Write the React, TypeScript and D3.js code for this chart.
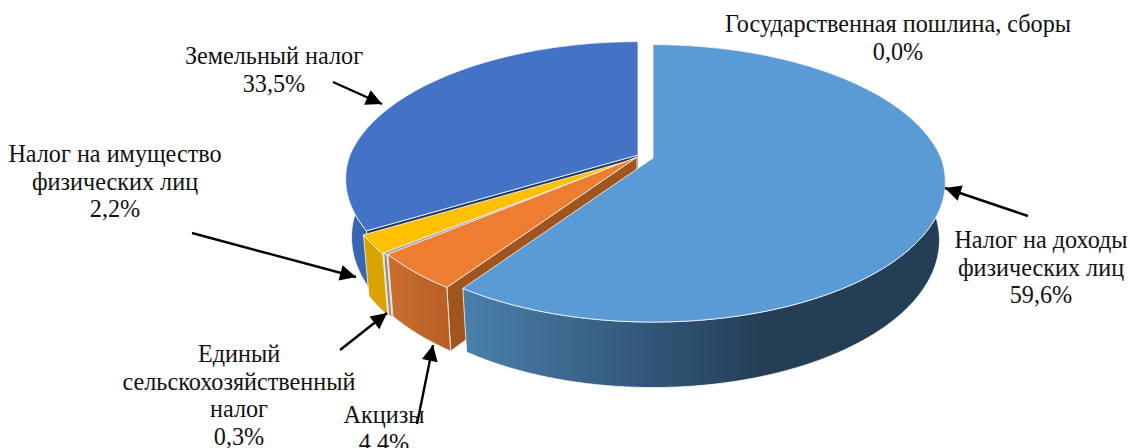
import React, { useEffect } from "react";
import * as d3 from "d3";

const categories = [
  "Налог на доходы физических лиц",
  "Акцизы",
  "Единый сельскохозяйственный налог",
  "Налог на имущество физических лиц",
  "Земельный налог",
  "Государственная пошлина, сборы",
];
const shares = [59.6, 4.4, 0.3, 2.2, 33.5, 0.0];
const shareLabels = ["59,6%", "4,4%", "0,3%", "2,2%", "33,5%", "0,0%"];

const topColors = ["#5b9bd5", "#ed7d31", "#a5a5a5", "#ffc000", "#4472c4", "#70ad47"];
const wallColors = ["#2a4a66", "#c0652a", "#8a8a8a", "#d9a300", "#3866b0", "#70ad47"];
const cutColors = ["#2a4a66", "#a0551f", "#8c8c8c", "#b78f00", "#203864", "#70ad47"];

// how far each slice is pulled out of the pie
const offsets: [number, number][] = [
  [15, 2],
  [-1, 1],
  [-2, 2],
  [-3, 3],
  [0, -1],
  [0, 0],
];

// label text wrapped like in the original, centre x and first baseline
const labelLines = [
  ["Налог на доходы", "физических лиц"],
  ["Акцизы"],
  ["Единый", "сельскохозяйственный", "налог"],
  ["Налог на имущество", "физических лиц"],
  ["Земельный налог"],
  ["Государственная пошлина, сборы"],
];
const labelAnchors: [number, number][] = [
  [1041, 248],
  [384, 423],
  [239, 362],
  [115, 162],
  [274, 64],
  [898, 32],
];
const arrows: [number, number, number, number][] = [
  [1028, 216, 945, 188],
  [417, 424, 433, 345],
  [340, 350, 387, 313],
  [192, 233, 356, 277],
  [333, 82, 382, 104],
];

const cx = 638;
const cy = 156;
const rx = 288;
const ry = 136;
const perspNear = 0.171;
const perspFar = 0.2;
const depth = 57;
const bottomScale = 0.98;

type Pt = [number, number];

const project = (a: number, r: number, low: boolean, off: [number, number]): Pt => {
  const X = r * Math.sin(a);
  const Y = r * Math.cos(a);
  const f = 1 / (1 + (Y > 0 ? perspFar : perspNear) * Y);
  const s = low ? bottomScale : 1;
  return [
    cx + off[0] + rx * X * f * s,
    cy + off[1] - ry * Y * f * s + (low ? depth * f : 0),
  ];
};

export default function App(): JSX.Element {
  useEffect(() => {
    const svg = d3.select("#pie3d");
    svg.selectAll("*").remove();

    const defs = svg.append("defs");
    const marker = defs
      .append("marker")
      .attr("id", "arrowhead")
      .attr("viewBox", "0 0 10 10")
      .attr("refX", 10)
      .attr("refY", 5)
      .attr("markerUnits", "userSpaceOnUse")
      .attr("markerWidth", 21)
      .attr("markerHeight", 16)
      .attr("orient", "auto");
    marker.append("path").attr("d", "M0,0L10,5L0,10Z").attr("fill", "#000");

    const blueGrad = defs
      .append("linearGradient")
      .attr("id", "blueWall")
      .attr("gradientUnits", "userSpaceOnUse")
      .attr("x1", 465)
      .attr("x2", 770)
      .attr("y1", 0)
      .attr("y2", 0);
    blueGrad.append("stop").attr("offset", 0).attr("stop-color", "#4a80ab");
    blueGrad.append("stop").attr("offset", 0.55).attr("stop-color", "#34597d");
    blueGrad.append("stop").attr("offset", 1).attr("stop-color", "#233e55");

    const orangeGrad = defs
      .append("linearGradient")
      .attr("id", "orangeWall")
      .attr("gradientUnits", "userSpaceOnUse")
      .attr("x1", 388)
      .attr("x2", 450)
      .attr("y1", 0)
      .attr("y2", 0);
    orangeGrad.append("stop").attr("offset", 0).attr("stop-color", "#cb6d2e");
    orangeGrad.append("stop").attr("offset", 1).attr("stop-color", "#b75f27");

    const wallFill = (i: number) =>
      i === 0 ? "url(#blueWall)" : i === 1 ? "url(#orangeWall)" : wallColors[i];

    const pie = d3
      .pie<number>()
      .sort(null)
      .startAngle(0)
      .endAngle(2 * Math.PI);
    const arcs = pie(shares);
    const line = d3.line();

    // back slices first, the big one goes over the rest
    const order = [4, 3, 2, 1, 0];
    order.forEach((i) => {
      const d = arcs[i];
      const off = offsets[i];
      const n = Math.max(2, Math.ceil((d.endAngle - d.startAngle) / 0.01));
      const angles = d3.range(n + 1).map((k) => d.startAngle + ((d.endAngle - d.startAngle) * k) / n);
      const g = svg.append("g").attr("stroke", "#fff").attr("stroke-width", 0.9).attr("stroke-opacity", 0.85);

      // cut wall on the side of the slice that faces the viewer
      if (i !== 0) {
        const cut: Pt[] = [
          project(d.startAngle, 0, false, off),
          project(d.startAngle, 1, false, off),
          project(d.startAngle, 1, true, off),
          project(d.startAngle, 0, true, off),
        ];
        g.append("path").attr("d", line(cut) + "Z").attr("fill", cutColors[i]);
      }

      const wall: Pt[] = [
        ...angles.map((a) => project(a, 1, false, off)),
        ...angles.slice().reverse().map((a) => project(a, 1, true, off)),
      ];
      g.append("path").attr("d", line(wall) + "Z").attr("fill", wallFill(i));

      const top: Pt[] = [project(0, 0, false, off), ...angles.map((a) => project(a, 1, false, off))];
      g.append("path").attr("d", line(top) + "Z").attr("fill", topColors[i]);
    });

    arrows.forEach(([x1, y1, x2, y2]) => {
      svg
        .append("line")
        .attr("x1", x1)
        .attr("y1", y1)
        .attr("x2", x2)
        .attr("y2", y2)
        .attr("stroke", "#000")
        .attr("stroke-width", 2.4)
        .attr("marker-end", "url(#arrowhead)");
    });

    categories.forEach((name, i) => {
      const [x, y] = labelAnchors[i];
      const t = svg
        .append("text")
        .attr("aria-label", name)
        .attr("text-anchor", "middle")
        .attr("font-family", "'Liberation Serif', serif")
        .attr("font-size", 24.2)
        .attr("fill", "#111");
      [...labelLines[i], shareLabels[i]].forEach((s, k) => {
        t.append("tspan").attr("x", x).attr("y", y + k * 27.7).text(s);
      });
    });
  }, []);

  return (
    <svg
      id="pie3d"
      width={1130}
      height={448}
      style={{ position: "absolute", left: 0, top: 0, display: "block", background: "#fff" }}
    />
  );
}
